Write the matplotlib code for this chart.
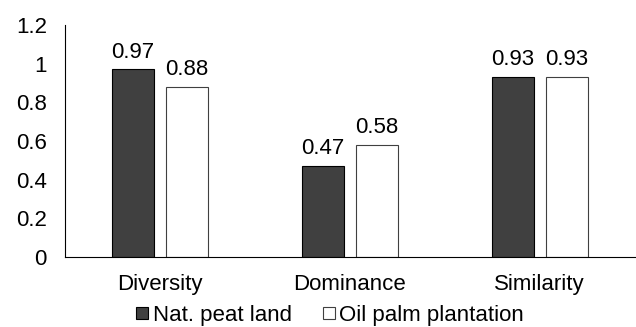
import matplotlib
matplotlib.use("Agg")
import matplotlib.pyplot as plt
from matplotlib.lines import Line2D
import numpy as np

categories = ["Diversity", "Dominance", "Similarity"]
peat = [0.97, 0.47, 0.93]
palm = [0.88, 0.58, 0.93]
series_names = ["Nat. peat land", "Oil palm plantation"]
yticks = [0, 0.2, 0.4, 0.6, 0.8, 1, 1.2]
ytick_labels = ["0", "0.2", "0.4", "0.6", "0.8", "1", "1.2"]

plt.rcParams['font.family'] = ['Liberation Sans', 'DejaVu Sans']
fs = 16
fig = plt.figure(figsize=(6.36, 3.27), dpi=100)
ax = fig.add_axes([0.102, 0.214, 0.896, 0.71])

x = np.arange(len(categories))
w = 0.22
off = 0.142
b1 = ax.bar(x - off, peat, w, color="#404040", edgecolor="#000000", linewidth=0.8, label=series_names[0])
b2 = ax.bar(x + off, palm, w, color="#ffffff", edgecolor="#404040", linewidth=0.8, label=series_names[1])
for bars, vals in ((b1, peat), (b2, palm)):
    for r, v in zip(bars, vals):
        ax.text(r.get_x() + r.get_width() / 2, v + 0.035, f"{v:.2f}", ha="center", va="bottom", fontsize=fs)

ax.set_xlim(-0.5, 2.5)
ax.set_ylim(0, 1.2)
ax.set_yticks(yticks)
ax.set_yticklabels(ytick_labels, fontsize=fs)
ax.set_xticks(x)
ax.set_xticklabels(categories, fontsize=fs)
ax.tick_params(axis='both', length=0)
ax.tick_params(axis='y', pad=13)
ax.tick_params(axis='x', pad=12)
for s in ["top", "right"]:
    ax.spines[s].set_visible(False)
ax.spines["left"].set_color("#000000")
ax.spines["bottom"].set_color("#000000")

h1 = Line2D([], [], marker='s', linestyle='none', markersize=8.5,
            markerfacecolor='#404040', markeredgecolor='#000000', markeredgewidth=0.8)
h2 = Line2D([], [], marker='s', linestyle='none', markersize=8.5,
            markerfacecolor='#ffffff', markeredgecolor='#404040', markeredgewidth=0.8)
fig.legend(handles=[h1, h2], labels=series_names, loc="center", bbox_to_anchor=(0.519, 0.036),
           ncol=2, frameon=False, fontsize=fs, handlelength=0.55,
           handletextpad=0.2, columnspacing=1.4, borderpad=0, borderaxespad=0)

fig.savefig("out.png", dpi=100)
